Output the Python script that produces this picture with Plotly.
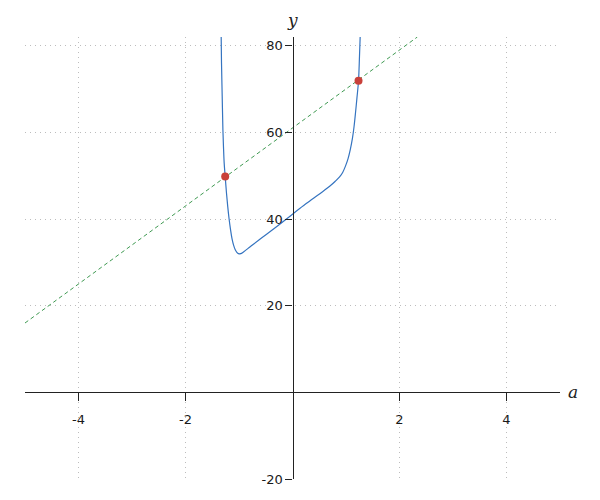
import plotly.graph_objects as go

# Blue curve
curve_a = [-1.333, -1.327, -1.314, -1.301, -1.289, -1.277, -1.258, -1.234, -1.21, -1.185,
           -1.159, -1.13, -1.1, -1.07, -1.04, -1.009, -0.97, -0.916, -0.791, -0.604,
           -0.342, -0.011, 0.25, 0.518, 0.7, 0.8, 0.88, 0.94, 0.99, 1.04,
           1.08, 1.12, 1.15, 1.18, 1.205, 1.234, 1.252, 1.265]
curve_y = [82.1, 76.0, 68.3, 60.6, 56.3, 52.9, 49.8, 46.0, 42.8, 40.0,
           37.6, 35.4, 33.9, 32.9, 32.3, 32.0, 32.0, 32.4, 33.6, 35.4,
           37.8, 41.0, 43.5, 45.9, 47.6, 48.7, 49.7, 50.8, 52.2, 54.0,
           56.0, 58.6, 61.3, 64.8, 68.0, 71.9, 77.5, 82.1]

# Green dashed line endpoints
line_a = [-5, 2.333]
line_y = [16, 82]

# Red intersection points
pts_a = [-1.258, 1.234]
pts_y = [49.8, 71.9]

x_ticks = [-4, -2, 2, 4]
x_labels = ["-4", "-2", "2", "4"]
y_ticks = [-20, 20, 40, 60, 80]
y_labels = ["-20", "20", "40", "60", "80"]

x_range = [-5, 5]
y_range = [-20, 82]

fig = go.Figure()
fig.add_trace(go.Scatter(x=line_a, y=line_y, mode="lines",
                         line=dict(color="#3f9a52", width=1, dash="4px,3px"),
                         hoverinfo="skip"))
fig.add_trace(go.Scatter(x=curve_a, y=curve_y, mode="lines",
                         line=dict(color="#3574c0", width=1.2, shape="spline", smoothing=1),
                         hoverinfo="skip"))
fig.add_trace(go.Scatter(x=pts_a, y=pts_y, mode="markers",
                         marker=dict(color="#c9403a", size=8),
                         hoverinfo="skip"))

font = dict(family="DejaVu Sans", size=13, color="#1a1a1a")
fig.update_layout(
    width=600, height=500,
    margin=dict(l=16.8, r=48.2, t=29, b=28.5, pad=0),
    plot_bgcolor="white", paper_bgcolor="white",
    showlegend=False,
    xaxis=dict(range=x_range, tickvals=x_ticks, ticktext=x_labels,
               showgrid=True, gridcolor="#bdbdbd", griddash="1px,4px", gridwidth=1,
               zeroline=False, showline=True, linecolor="#222", linewidth=1.3,
               ticks="outside", ticklen=8, tickcolor="#222", tickwidth=1,
               ticklabelstandoff=7,
               tickfont=font, anchor="free", position=20 / 102),
    yaxis=dict(range=y_range, tickvals=y_ticks, ticktext=y_labels,
               showgrid=True, gridcolor="#bdbdbd", griddash="1px,4px", gridwidth=1,
               zeroline=False, showline=True, linecolor="#222", linewidth=1.3,
               ticks="outside", ticklen=7, tickcolor="#222", tickwidth=1,
               tickfont=font, anchor="free", position=0.5),
    annotations=[
        dict(text="y", x=0, xref="x", y=1, yref="paper", yshift=5,
             showarrow=False, yanchor="bottom",
             font=dict(family="DejaVu Serif", size=17, color="#222", style="italic")),
        dict(text="a", x=1, xref="paper", y=0, yref="y", xshift=6,
             showarrow=False, xanchor="left",
             font=dict(family="DejaVu Serif", size=17, color="#222", style="italic")),
    ],
)

fig.write_html("out.html")
